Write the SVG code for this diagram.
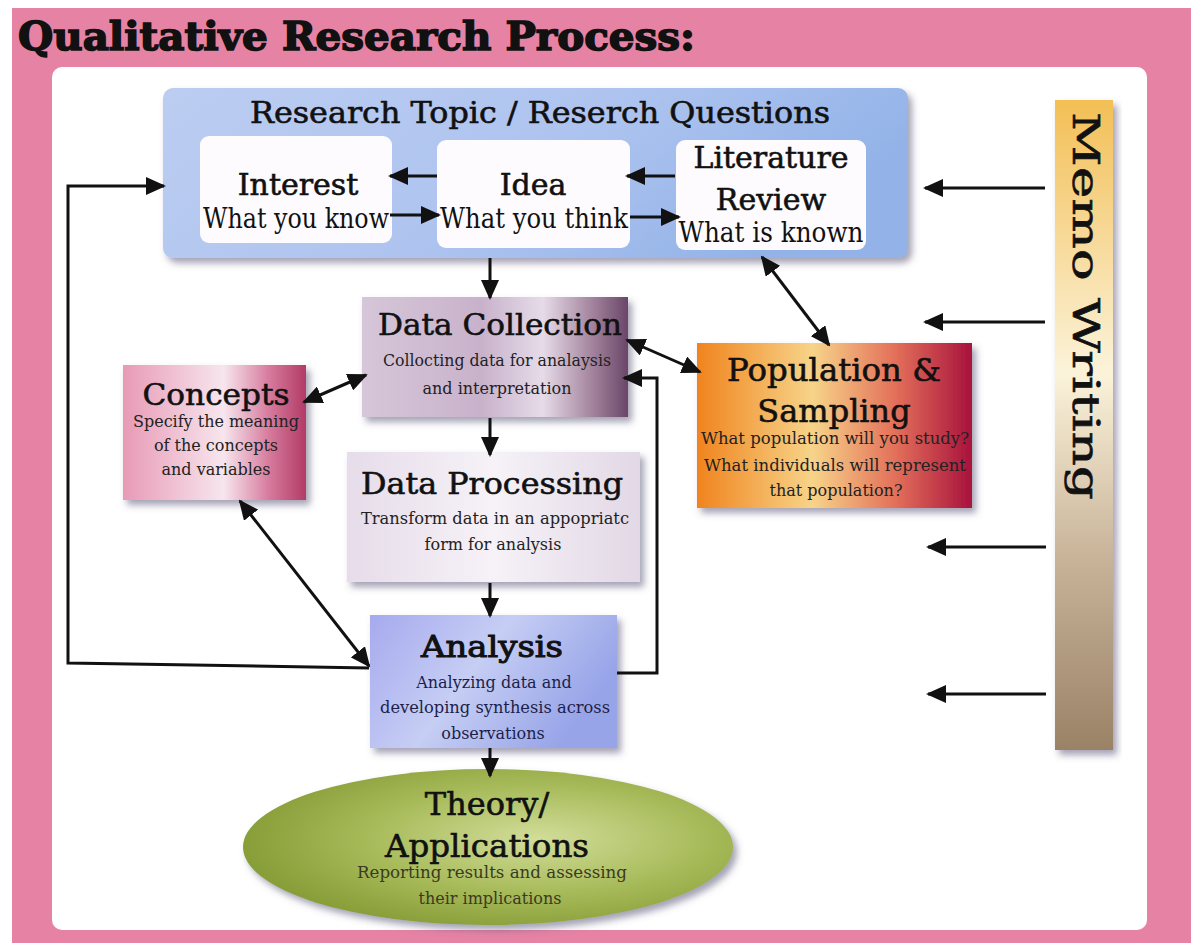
<svg xmlns="http://www.w3.org/2000/svg" width="1191" height="943" viewBox="0 0 1191 943">
  <defs>
    <style>
      .head { font-family: "DejaVu Serif", "Liberation Serif", serif; font-size: 30px; fill: #111; stroke: #111; stroke-width: 0.6px; text-anchor: middle; }
      .sub { font-family: "DejaVu Serif", "Liberation Serif", serif; font-size: 16px; fill: #222; text-anchor: middle; }
      .cond { font-family: "DejaVu Serif", "Liberation Serif", serif; font-size: 28px; fill: #111; text-anchor: middle; }
      .wire { fill: none; stroke: #111; stroke-width: 3; }
      .inner { fill: #fdfbfe; }
    </style>
    <marker id="head" viewBox="0 0 20 18" refX="18" refY="9" markerWidth="20" markerHeight="18" markerUnits="userSpaceOnUse" orient="auto-start-reverse">
      <path d="M0,0 L20,9 L0,18 Z" fill="#111"/>
    </marker>
    <filter id="shadow" x="-10%" y="-10%" width="125%" height="130%">
      <feDropShadow dx="4" dy="5" stdDeviation="3.5" flood-color="#5a5478" flood-opacity="0.55"/>
    </filter>
    <linearGradient id="gTop" x1="0" y1="0" x2="1" y2="0.3">
      <stop offset="0" stop-color="#bccdf1"/>
      <stop offset="0.6" stop-color="#adc3ef"/>
      <stop offset="1" stop-color="#93b3e8"/>
    </linearGradient>
    <linearGradient id="gColl" x1="0" y1="0" x2="1" y2="0">
      <stop offset="0" stop-color="#d6c6d9"/>
      <stop offset="0.45" stop-color="#c8b2cb"/>
      <stop offset="0.68" stop-color="#e6dbe8"/>
      <stop offset="0.86" stop-color="#a5869f"/>
      <stop offset="1" stop-color="#6a4668"/>
    </linearGradient>
    <linearGradient id="gConc" x1="0" y1="0" x2="1" y2="0">
      <stop offset="0" stop-color="#e89ab5"/>
      <stop offset="0.55" stop-color="#f7e6ee"/>
      <stop offset="0.8" stop-color="#d67a9c"/>
      <stop offset="1" stop-color="#b23b66"/>
    </linearGradient>
    <linearGradient id="gProc" x1="0" y1="0" x2="1" y2="0">
      <stop offset="0" stop-color="#e6dcea"/>
      <stop offset="0.5" stop-color="#f6f2f7"/>
      <stop offset="1" stop-color="#e2d8e6"/>
    </linearGradient>
    <linearGradient id="gAna" x1="0" y1="0" x2="1" y2="0.4">
      <stop offset="0" stop-color="#a6aaee"/>
      <stop offset="0.5" stop-color="#c6cef4"/>
      <stop offset="1" stop-color="#97a4e8"/>
    </linearGradient>
    <linearGradient id="gPop" x1="0" y1="0" x2="1" y2="0">
      <stop offset="0" stop-color="#f0841e"/>
      <stop offset="0.42" stop-color="#f7d489"/>
      <stop offset="0.72" stop-color="#e3705a"/>
      <stop offset="1" stop-color="#a8123c"/>
    </linearGradient>
    <radialGradient id="gTheo" cx="0.6" cy="0.45" r="0.6">
      <stop offset="0" stop-color="#d2dd9a"/>
      <stop offset="0.55" stop-color="#a9bc5c"/>
      <stop offset="1" stop-color="#889e38"/>
    </radialGradient>
    <linearGradient id="gMemo" x1="0" y1="0" x2="0" y2="1">
      <stop offset="0" stop-color="#f3bf56"/>
      <stop offset="0.42" stop-color="#fbf3da"/>
      <stop offset="0.7" stop-color="#c9b49a"/>
      <stop offset="1" stop-color="#9a8266"/>
    </linearGradient>
  </defs>

  <!-- frame -->
  <rect x="0" y="0" width="1191" height="943" fill="#ffffff"/>
  <rect x="12" y="8" width="1179" height="935" fill="#e683a4"/>
  <rect x="52" y="67" width="1095" height="863" rx="10" fill="#ffffff"/>
  <text x="18" y="50" font-family="DejaVu Serif, Liberation Serif, serif" font-weight="bold" font-size="40" fill="#111" stroke="#111" stroke-width="1.6" textLength="677" lengthAdjust="spacingAndGlyphs">Qualitative Research Process:</text>

  <!-- research topic container -->
  <g id="topic">
    <rect x="163" y="88" width="745" height="170" rx="10" fill="url(#gTop)" filter="url(#shadow)"/>
    <text class="head" x="540" y="123" textLength="580" lengthAdjust="spacingAndGlyphs">Research Topic / Reserch Questions</text>
  </g>

  <g id="interest">
    <rect class="inner" x="200" y="136" width="192" height="107" rx="9"/>
    <text class="head" x="298" y="195">Interest</text>
    <text class="cond" x="296" y="228" textLength="186" lengthAdjust="spacingAndGlyphs">What you know</text>
  </g>

  <g id="idea">
    <rect class="inner" x="437" y="140" width="193" height="108" rx="9"/>
    <text class="head" x="533" y="195">Idea</text>
    <text class="cond" x="534" y="228" textLength="188" lengthAdjust="spacingAndGlyphs">What you think</text>
  </g>

  <g id="literature">
    <rect class="inner" x="676" y="140" width="190" height="110" rx="9"/>
    <text class="head" x="771" y="168">Literature</text>
    <text class="head" x="771" y="210">Review</text>
    <text class="cond" x="771" y="242" textLength="185" lengthAdjust="spacingAndGlyphs">What is known</text>
  </g>

  <g id="collection">
    <rect x="362" y="297" width="266" height="120" fill="url(#gColl)" filter="url(#shadow)"/>
    <text class="head" x="500" y="335" textLength="244" lengthAdjust="spacingAndGlyphs">Data Collection</text>
    <text class="sub" x="497" y="366" textLength="228" lengthAdjust="spacingAndGlyphs">Collocting data for analaysis</text>
    <text class="sub" x="497" y="394">and interpretation</text>
  </g>

  <g id="concepts">
    <rect x="123" y="365" width="183" height="135" fill="url(#gConc)" filter="url(#shadow)"/>
    <text class="head" x="216" y="405" textLength="147" lengthAdjust="spacingAndGlyphs">Concepts</text>
    <text class="sub" x="216" y="427" textLength="166" lengthAdjust="spacingAndGlyphs">Specify the meaning</text>
    <text class="sub" x="216" y="451">of the concepts</text>
    <text class="sub" x="216" y="475">and variables</text>
  </g>

  <g id="processing">
    <rect x="347" y="452" width="293" height="130" fill="url(#gProc)" filter="url(#shadow)"/>
    <text class="head" x="492" y="494" textLength="262" lengthAdjust="spacingAndGlyphs">Data Processing</text>
    <text class="sub" x="495" y="524" textLength="268" lengthAdjust="spacingAndGlyphs">Transform data in an appopriatc</text>
    <text class="sub" x="493" y="550">form for analysis</text>
  </g>

  <g id="analysis">
    <rect x="370" y="615" width="247" height="133" fill="url(#gAna)" filter="url(#shadow)"/>
    <text class="head" x="492" y="657" style="stroke-width:1px" textLength="142" lengthAdjust="spacingAndGlyphs">Analysis</text>
    <text class="sub" x="494" y="688" style="fill:#1c1f4a">Analyzing data and</text>
    <text class="sub" x="495" y="713" style="fill:#1c1f4a" textLength="230" lengthAdjust="spacingAndGlyphs">developing synthesis across</text>
    <text class="sub" x="493" y="739" style="fill:#1c1f4a">observations</text>
  </g>

  <g id="theory">
    <ellipse cx="488" cy="847" rx="245" ry="78" fill="url(#gTheo)" filter="url(#shadow)"/>
    <text class="head" x="487" y="815" style="font-size:32px">Theory/</text>
    <text class="head" x="487" y="857" style="font-size:32px" textLength="204" lengthAdjust="spacingAndGlyphs">Applications</text>
    <text class="sub" x="492" y="878" style="fill:#3a3a20" textLength="270" lengthAdjust="spacingAndGlyphs">Reporting results and assessing</text>
    <text class="sub" x="490" y="904" style="fill:#3a3a20">their implications</text>
  </g>

  <g id="population">
    <rect x="697" y="343" width="275" height="165" fill="url(#gPop)" filter="url(#shadow)"/>
    <text class="head" x="834" y="381" style="font-size:32px" textLength="214" lengthAdjust="spacingAndGlyphs">Population &amp;</text>
    <text class="head" x="834" y="422" style="font-size:32px">Sampling</text>
    <text class="sub" x="835" y="444" textLength="268" lengthAdjust="spacingAndGlyphs">What population will you study?</text>
    <text class="sub" x="835" y="471" textLength="262" lengthAdjust="spacingAndGlyphs">What individuals will represent</text>
    <text class="sub" x="836" y="496">that population?</text>
  </g>

  <g id="memo">
    <rect x="1055" y="100" width="58" height="650" fill="url(#gMemo)" filter="url(#shadow)"/>
    <text transform="translate(1073,112) rotate(90)" x="0" y="0" font-family="DejaVu Serif, Liberation Serif, serif" font-size="38" fill="#111" stroke="#111" stroke-width="0.6" textLength="388" lengthAdjust="spacingAndGlyphs">Memo Writing</text>
  </g>

  <!-- connectors -->
  <g id="connectors" class="wire">
    <!-- inside the topic box -->
    <line x1="437" y1="176" x2="390" y2="176" marker-end="url(#head)"/>
    <line x1="675" y1="176" x2="627" y2="176" marker-end="url(#head)"/>
    <line x1="390" y1="215" x2="439" y2="215" marker-end="url(#head)"/>
    <line x1="630" y1="217" x2="679" y2="217" marker-end="url(#head)"/>
    <!-- main flow -->
    <line x1="490" y1="258" x2="490" y2="298" marker-end="url(#head)"/>
    <line x1="490" y1="418" x2="490" y2="455" marker-end="url(#head)"/>
    <line x1="490" y1="583" x2="490" y2="616" marker-end="url(#head)"/>
    <line x1="490" y1="748" x2="490" y2="776" marker-end="url(#head)"/>
    <!-- two-way links -->
    <line x1="762" y1="257" x2="829" y2="345" marker-start="url(#head)" marker-end="url(#head)"/>
    <line x1="627" y1="340" x2="700" y2="372" marker-start="url(#head)" marker-end="url(#head)"/>
    <line x1="304" y1="402" x2="366" y2="375" marker-start="url(#head)" marker-end="url(#head)"/>
    <line x1="240" y1="501" x2="369" y2="666" marker-start="url(#head)" marker-end="url(#head)"/>
    <!-- feedback loops -->
    <polyline points="369,668 68,663 68,186 164,186" marker-end="url(#head)"/>
    <polyline points="617,673 657,673 657,378 624,378" marker-end="url(#head)"/>
    <!-- memo writing feeds -->
    <line x1="1045" y1="188" x2="925" y2="188" marker-end="url(#head)"/>
    <line x1="1045" y1="322" x2="925" y2="322" marker-end="url(#head)"/>
    <line x1="1046" y1="547" x2="928" y2="547" marker-end="url(#head)"/>
    <line x1="1046" y1="694" x2="928" y2="694" marker-end="url(#head)"/>
  </g>
</svg>
